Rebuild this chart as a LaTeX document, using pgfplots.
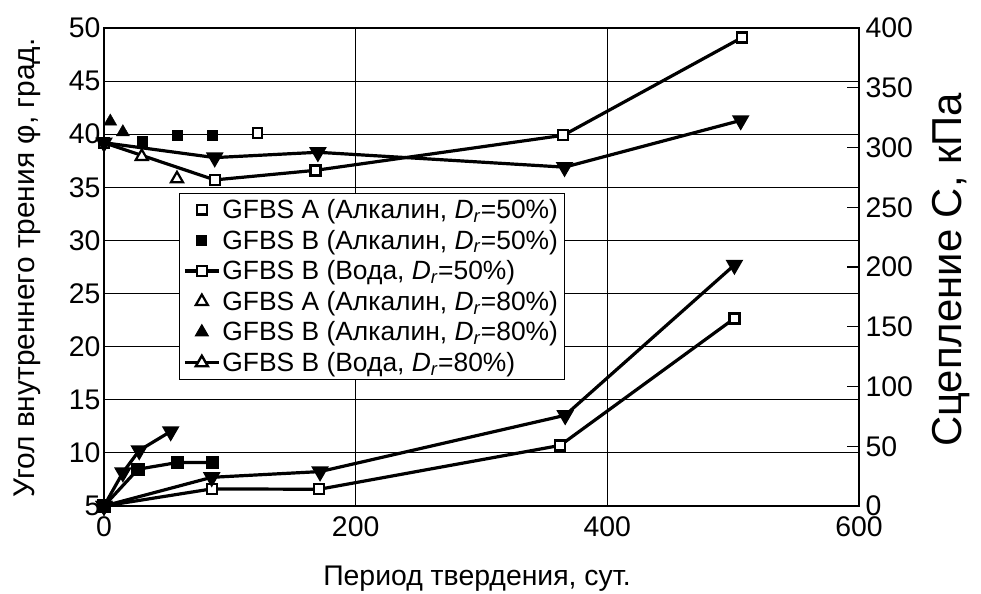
\documentclass[border=0pt]{standalone}
\usepackage{fontspec}
\setmainfont{Liberation Sans}
\usepackage{pgfplots}
\pgfplotsset{compat=1.18}
\begin{document}
\begin{tikzpicture}
\path[use as bounding box] (-104bp,-88bp) rectangle (877bp,506bp);
\pgfplotsset{
  common/.style={
    scale only axis, width=755bp, height=478bp,
    xmin=0, xmax=600, clip=false,
    /pgf/number format/assume math mode=true,
    tick label style={font=\fontsize{28.5}{32}\selectfont},
  },
  dl/.style={black, line width=3.2bp, mark options={solid, line width=2.4bp, fill=white}},
  legend image code/.code={\draw[mark repeat=2,mark phase=2,#1] plot coordinates {(0bp,0bp) (17bp,0bp) (34bp,0bp)};},
}
\begin{axis}[common,
  ymin=5, ymax=50,
  xtick={0,200,400,600}, ytick={5,10,...,50},
  grid=major, major grid style={black, line width=1.2bp},
  axis line style={black, line width=1.5bp},
  major tick length=0pt,
  xticklabel style={yshift=-7bp},
  yticklabel style={xshift=0bp},
  xlabel={Период твердения, сут.},
  xlabel style={font=\fontsize{28.5}{32}\selectfont, at={(axis description cs:0.494,-0.151)}, anchor=center},
  ylabel={Угол внутреннего трения φ, град.},
  ylabel style={font=\fontsize{30}{34}\selectfont, at={(axis description cs:-0.102,0.498)}, anchor=center},
  legend style={at={(rel axis cs:0.099,0.655)}, anchor=north west, draw=black, line width=1bp,
    fill=white, font=\fontsize{26.5}{28}\selectfont, row sep=6bp, inner sep=4bp},
  legend cell align=left,
]
\addplot[only marks, mark=square*, mark size=4.8bp, mark options={fill=white, draw=black, line width=2.2bp}]
  coordinates {(122,40.1)};
\addlegendentry{GFBS A (Алкалин, \textit{D}\textsubscript{\textit{r}}=50\%)}
\addplot[only marks, mark=square*, mark size=5bp, mark options={fill=black, draw=black}]
  coordinates {(30,39.3) (58,39.9) (86,39.9)};
\addlegendentry{GFBS B (Алкалин, \textit{D}\textsubscript{\textit{r}}=50\%)}
\addplot[dl, mark=square*, mark size=5bp]
  coordinates {(0,39.2) (88,35.7) (168,36.6) (365,39.9) (507,49.1)};
\addlegendentry{GFBS B (Вода, \textit{D}\textsubscript{\textit{r}}=50\%)}
\addplot[only marks, mark=triangle*, mark size=7bp, mark options={fill=white, draw=black, line width=2.2bp}]
  coordinates {(30,37.9) (58,35.8)};
\addlegendentry{GFBS A (Алкалин, \textit{D}\textsubscript{\textit{r}}=80\%)}
\addplot[only marks, mark=triangle*, mark size=7.5bp, mark options={fill=black, draw=black}]
  coordinates {(5,41.2) (15,40.2)};
\addlegendentry{GFBS B (Алкалин, \textit{D}\textsubscript{\textit{r}}=80\%)}
\addlegendimage{dl, mark=triangle*, mark size=7bp}
\addlegendentry{GFBS B (Вода, \textit{D}\textsubscript{\textit{r}}=80\%)}
\addplot[dl, mark=triangle*, mark size=7bp, mark options={rotate=180}, forget plot]
  coordinates {(0,39.2) (88,37.8) (170,38.3) (366,36.9) (506,41.3)};
\end{axis}
\begin{axis}[common,
  ymin=0, ymax=400,
  axis x line=none, axis y line*=right,
  ytick={0,50,...,400},
  tick align=inside, major tick length=12bp,
  tick style={black, line width=1.2bp},
  y axis line style={black, line width=1.5bp},
  yticklabel style={xshift=3bp},
  ylabel={Сцепление C, кПа},
  ylabel style={font=\fontsize{42}{46}\selectfont, at={(axis description cs:1.1225,0.494)}, anchor=center},
]
\addplot[dl, mark=square*, mark size=5bp]
  coordinates {(0,0) (85.6,14.3) (171,14) (362.5,50.7) (501,157)};
\addplot[dl, mark=triangle*, mark size=7bp, mark options={rotate=180}]
  coordinates {(0,0) (85.6,24) (171.7,28.8) (366.5,75.9) (501,201.7)};
\addplot[dl, mark=square*, mark size=5bp, mark options={fill=black}]
  coordinates {(0,0) (27,30.8) (58.5,36.4) (86.4,36.4)};
\addplot[dl, mark=triangle*, mark size=7bp, mark options={rotate=180}]
  coordinates {(0,0) (15,28) (28,46.5) (53,62.4)};
\end{axis}
\end{tikzpicture}
\end{document}
